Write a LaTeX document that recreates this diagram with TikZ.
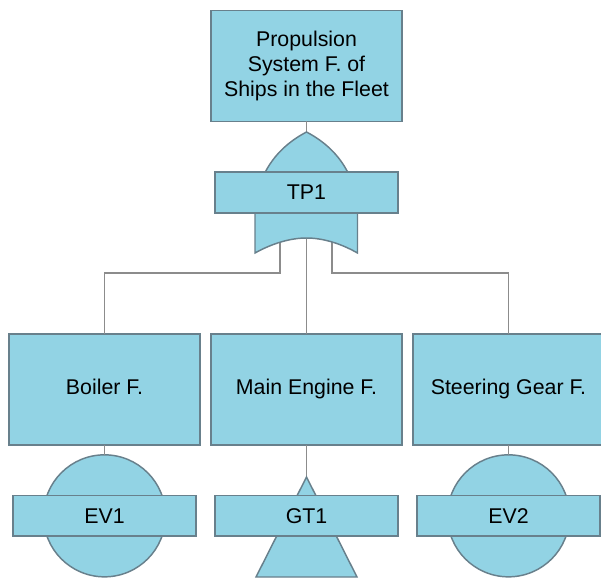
\documentclass[tikz,border=0pt]{standalone}
\usepackage{fontspec}
\setmainfont{Liberation Sans}
\usetikzlibrary{positioning, calc}
\definecolor{ftFill}{RGB}{146, 211, 228}
\definecolor{ftEdge}{RGB}{104, 128, 140}
\definecolor{ftLine}{RGB}{140, 140, 140}
\tikzset{
    eventbox/.style={
        rectangle,
        draw=ftEdge,
        line width=1.1pt,
        fill=ftFill,
        font=\fontsize{16pt}{19pt}\selectfont,
        outer sep=0pt,
        inner sep=0pt,
        minimum width=143pt,
        minimum height=83pt
    },
    rowbox/.style={
        eventbox,
        text height=11.5pt,
        text depth=4.7pt
    },
    gatebar/.style={
        eventbox,
        minimum width=137.5pt,
        minimum height=30.5pt
    },
    gateshape/.style={
        draw=ftEdge,
        line width=1.1pt,
        fill=ftFill
    },
    basicgate/.style={
        gateshape,
        circle,
        outer sep=0pt,
        inner sep=0pt,
        minimum size=91.5pt
    },
    wire/.style={
        draw=ftLine,
        line width=1.2pt
    }
}
\begin{document}
\begin{tikzpicture}[x=0.75pt, y=-0.75pt]
  \useasboundingbox (0,0) rectangle (601,579);

  % Event boxes
  \node[rowbox] (main) at (306.5,389.5) {Main Engine F.};
  \node[rowbox, left=8.5pt of main] (boiler) {Boiler F.};
  \node[rowbox, right=8.5pt of main] (steering) {Steering Gear F.};
  \node[eventbox, align=center] (top) at (306.5,66) {Propulsion\\System F. of\\Ships in the Fleet};

  % OR gate anchors
  \coordinate (orApex) at (306.5,132);
  \coordinate (orDip) at (306.5,238);
  \coordinate (orLeft) at (280,242);
  \coordinate (orRight) at (332,242);
  \coordinate (bus) at (306.5,273);

  % Connections
  \draw[wire] (top) -- (orApex);
  \draw[wire] (orDip) -- (main);
  \draw[wire] (orLeft) -- (orLeft |- bus) -| (boiler);
  \draw[wire] (orRight) -- (orRight |- bus) -| (steering);

  % OR gate
  \draw[gateshape] (255,253) -- (255,213) .. controls (256,180) and (272,150) .. (orApex)
      .. controls (341,150) and (357,180) .. (357.5,213) -- (357.5,253)
      .. controls (340,243) and (322,238) .. (orDip)
      .. controls (291,238) and (273,243) .. cycle;
  \node[gatebar] (tp1) at (306.5,192.5) {TP1};

  % Basic events
  \node[basicgate, below=7.5pt of boiler] (evgate1) {};
  \node[basicgate, below=7.5pt of steering] (evgate2) {};
  \draw[wire] (boiler) -- (evgate1);
  \draw[wire] (steering) -- (evgate2);
  \node[gatebar] (ev1) at (evgate1) {EV1};
  \node[gatebar] (ev2) at (evgate2) {EV2};

  % Transfer gate
  \coordinate (gtApex) at (306.5,477);
  \draw[wire] (main) -- (gtApex);
  \draw[gateshape] (gtApex) -- (357,577) -- (256,577) -- cycle;
  \node[gatebar] (gt1) at (main.south |- evgate1) {GT1};
\end{tikzpicture}
\end{document}
